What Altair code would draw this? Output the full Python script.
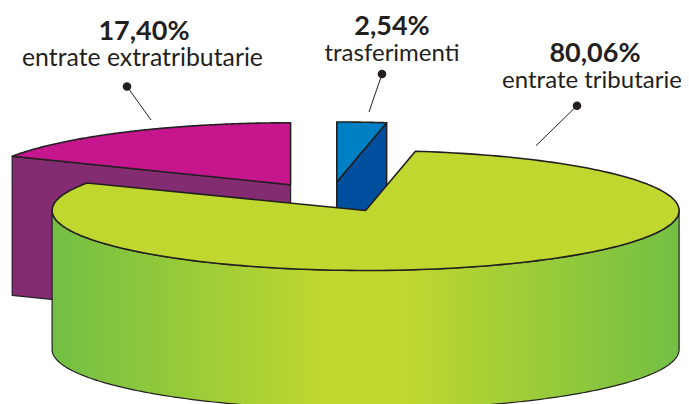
import numpy as np
import pandas as pd
import altair as alt

# --- values ---
names = ["entrate tributarie", "entrate extratributarie", "trasferimenti"]
shares = [80.06, 17.40, 2.54]

# --- layout and style (kept apart from the values) ---
W, H = 673, 396
OFF = 8
RX, RY, DEPTH = 313.5, 60.0, 139.0
RY_EXTRA = 62.0
CENTERS = {"trib": (365.6, 210.5), "extra": (290.6, 184.8), "tras": (336.8, 182.0)}
INK = "#231F20"
# x of the bold line, its baseline, x of the name line, its baseline, name font size
LABEL_POS = [(595, 62, 592, 88, 24), (144, 40, 142.5, 66, 24.8), (392, 35, 392, 61, 24)]
LEADERS = [((577, 105.7), (536, 145.7)), ((127, 86.5), (151, 120)), ((382, 74), (369, 112))]

x_scale = alt.Scale(domain=[OFF, OFF + W], range=[0, W], nice=False, zero=False)
y_scale = alt.Scale(domain=[OFF, OFF + H], range=[0, H], nice=False, zero=False)
xs = alt.X("x:Q", scale=x_scale, axis=None)
ys = alt.Y("y:Q", scale=y_scale, axis=None)


def rim(center, start, end, dy=0.0, n=200, ry=RY):
    """Points of the pie's elliptical rim; angles in degrees clockwise from the top."""
    t = np.radians(np.linspace(start, end, n))
    return [(center[0] + RX * np.sin(a), center[1] - ry * np.cos(a) + dy) for a in t]


def poly(points, **mark):
    df = pd.DataFrame(points + [points[0]], columns=["x", "y"])
    df["i"] = range(len(df))
    return alt.Chart(df).mark_line(
        filled=True, stroke=INK, strokeJoin="round", clip=False, **mark
    ).encode(x=xs, y=ys, order="i:Q")


deg = [s * 3.6 for s in shares]
extra_a, tras_a = deg[1], deg[2]
c_t, c_e, c_b = CENTERS["trib"], CENTERS["extra"], CENTERS["tras"]

# extratributarie: cut face and top
e_tip = rim(c_e, -extra_a, -extra_a, n=1, ry=RY_EXTRA)[0]
purple = poly(
    [e_tip, c_e, (c_e[0], c_e[1] + DEPTH), (e_tip[0], e_tip[1] + DEPTH)],
    fill="#832C72", strokeWidth=1.2,
)
magenta = poly([c_e] + rim(c_e, -extra_a, 0, ry=RY_EXTRA), fill="#C6168D", strokeWidth=1.6)

# trasferimenti: cut face and top
b_tip = rim(c_b, tras_a, tras_a, n=1)[0]
dark = poly(
    [c_b, b_tip, (b_tip[0], b_tip[1] + DEPTH), (c_b[0], c_b[1] + DEPTH)],
    fill="#004F9E", strokeWidth=1.6,
)
light = poly([c_b] + rim(c_b, 0, tras_a), fill="#0080C4", strokeWidth=1.6)

# tributarie: outer wall and top
wall_pts = rim(c_t, 90, 270) + rim(c_t, 270, 90, dy=DEPTH)
wall = poly(
    wall_pts,
    fill=alt.Gradient(
        gradient="linear", x1=0, x2=1, y1=0, y2=0,
        stops=[
            alt.GradientStop(color="#72BF44", offset=0),
            alt.GradientStop(color="#BFD72F", offset=0.43),
            alt.GradientStop(color="#BFD72F", offset=0.57),
            alt.GradientStop(color="#72BF44", offset=1),
        ],
    ),
    strokeWidth=1.2,
)
top = poly([c_t] + rim(c_t, tras_a, 360 - extra_a), fill="#BFD72F", strokeWidth=1.6)

# labels
pct = [f"{s:.2f}".replace(".", ",") + "%" for s in shares]
lab = pd.DataFrame({
    "x": [p[0] for p in LABEL_POS],
    "y1": [p[1] for p in LABEL_POS],
    "x2": [p[2] for p in LABEL_POS],
    "y2": [p[3] for p in LABEL_POS],
    "fs": [p[4] for p in LABEL_POS],
    "pct": pct,
    "name": names,
})
bold = alt.Chart(lab).mark_text(
    font="Lato", fontWeight="bold", fontSize=27, color=INK, baseline="alphabetic", align="center"
).encode(x=xs, y=alt.Y("y1:Q", scale=y_scale, axis=None), text="pct:N")
regular = alt.Chart(lab).mark_text(
    font="Lato", color=INK, baseline="alphabetic", align="center"
).encode(
    x=alt.X("x2:Q", scale=x_scale, axis=None),
    y=alt.Y("y2:Q", scale=y_scale, axis=None),
    size=alt.Size("fs:Q", scale=None),
    text="name:N",
)

lead_rows = []
for k, (a, b) in enumerate(LEADERS):
    lead_rows += [{"x": a[0], "y": a[1], "k": k, "i": 0}, {"x": b[0], "y": b[1], "k": k, "i": 1}]
lead = pd.DataFrame(lead_rows)
lead_lines = alt.Chart(lead).mark_line(color=INK, strokeWidth=1).encode(x=xs, y=ys, detail="k:N", order="i:Q")
lead_dots = alt.Chart(lead[lead.i == 0]).mark_point(filled=True, color=INK, size=74, opacity=1).encode(x=xs, y=ys)

chart = alt.layer(
    purple, magenta, dark, light, wall, top, lead_lines, lead_dots, bold, regular
).properties(
    width=W, height=H, padding=0, autosize=alt.AutoSizeParams(type="none"), background="white"
).configure_view(stroke=None)

chart.save("out.html", embed_options={"renderer": "svg", "actions": False})
